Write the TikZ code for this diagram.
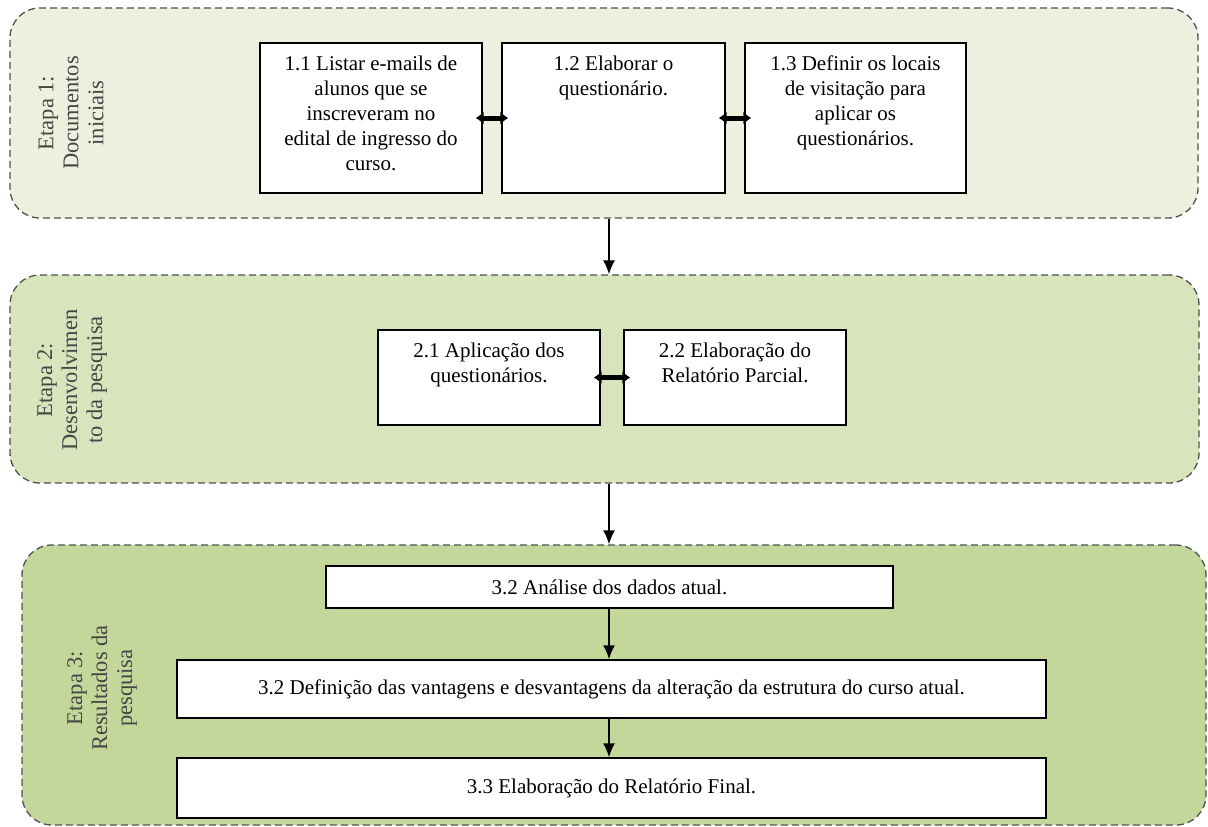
\documentclass[tikz,border=0pt]{standalone}
\usepackage{fontspec}
\setmainfont{Liberation Serif}
\usetikzlibrary{arrows.meta}
\definecolor{fillA}{HTML}{EBF1DE}
\definecolor{fillB}{HTML}{D8E4BC}
\definecolor{fillC}{HTML}{C4D79B}
\definecolor{labgray}{HTML}{454545}
\definecolor{dashgray}{HTML}{505050}
\tikzset{
  stage/.style={draw=dashgray, line width=1.3pt, dash pattern=on 7pt off 4pt, rounded corners=30pt, inner sep=0pt},
  taskbox/.style={draw=black, line width=1.4pt, fill=white, inner sep=0pt, font=\fontsize{21}{25}\selectfont},
  widebox/.style={taskbox, align=center},
  stagelabel/.style={rotate=90, align=center, text=labgray, font=\fontsize{22.5}{25}\selectfont},
  biarrow/.style={line width=5pt, shorten <=-7pt, shorten >=-7pt, {Latex[length=8pt,width=13pt]}-{Latex[length=8pt,width=13pt]}},
  downarrow/.style={line width=1.6pt, -{Latex[length=14pt,width=12pt]}}
}
\newcommand{\topbox}[3]{\begin{minipage}[t][#2pt][t]{#1pt}\centering\vspace*{13pt}#3\end{minipage}}
\begin{document}
\begin{tikzpicture}[x=1pt,y=-1pt]
\useasboundingbox (0,0) rectangle (1208,827);
% stages
\node[stage, fill=fillA, minimum width=1188pt, minimum height=210pt] (s1) at (604,113) {};
\node[stage, fill=fillB, minimum width=1189pt, minimum height=208pt] (s2) at (604.5,379) {};
\node[stage, fill=fillC, minimum width=1184pt, minimum height=280pt] (s3) at (614,685) {};
% labels
\node[stagelabel] (l1) at (71,113) {Etapa 1:\\Documentos\\iniciais};
\node[stagelabel] (l2) at (72,380) {Etapa 2:\\Desenvolvimen\\to da pesquisa};
\node[stagelabel] (l3) at (102,688) {Etapa 3:\\Resultados da\\pesquisa};
% stage 1 boxes
\node[taskbox] (b11) at (371,118) {\topbox{222}{150}{1.1 Listar e-mails de\\alunos que se\\inscreveram no\\edital de ingresso do\\curso.}};
\node[taskbox] (b12) at (613.5,118) {\topbox{223}{150}{1.2 Elaborar o\\questionário.}};
\node[taskbox] (b13) at (855.5,118) {\topbox{221}{150}{1.3 Definir os locais\\de visitação para\\aplicar os\\questionários.}};
% stage 2 boxes
\node[taskbox] (b21) at (489,377.5) {\topbox{222}{95}{2.1 Aplicação dos\\questionários.}};
\node[taskbox] (b22) at (735,377.5) {\topbox{222}{95}{2.2 Elaboração do\\Relatório Parcial.}};
% stage 3 boxes
\node[widebox, minimum width=567pt, minimum height=42pt] (b31) at (609.5,587) {3.2 Análise dos dados atual.};
\node[widebox, minimum width=869pt, minimum height=58pt] (b32) at (611.5,689) {3.2 Definição das vantagens e desvantagens da alteração da estrutura do curso atual.};
\node[widebox, minimum width=869pt, minimum height=60pt] (b33) at (611.5,788) {3.3 Elaboração do Relatório Final.};
% connectors
\draw[biarrow] (b11.east) -- (b12.west);
\draw[biarrow] (b12.east) -- (b13.west);
\draw[biarrow] (b21.east) -- (b22.west);
\draw[downarrow] ([xshift=5pt]s1.south) -- ([xshift=4.5pt]s2.north);
\draw[downarrow] ([xshift=4.5pt]s2.south) -- ([xshift=-5pt]s3.north);
\draw[downarrow] ([xshift=-0.5pt]b31.south) -- ([xshift=-2.5pt]b32.north);
\draw[downarrow] ([xshift=-2.5pt]b32.south) -- ([xshift=-2.5pt]b33.north);
\end{tikzpicture}
\end{document}
